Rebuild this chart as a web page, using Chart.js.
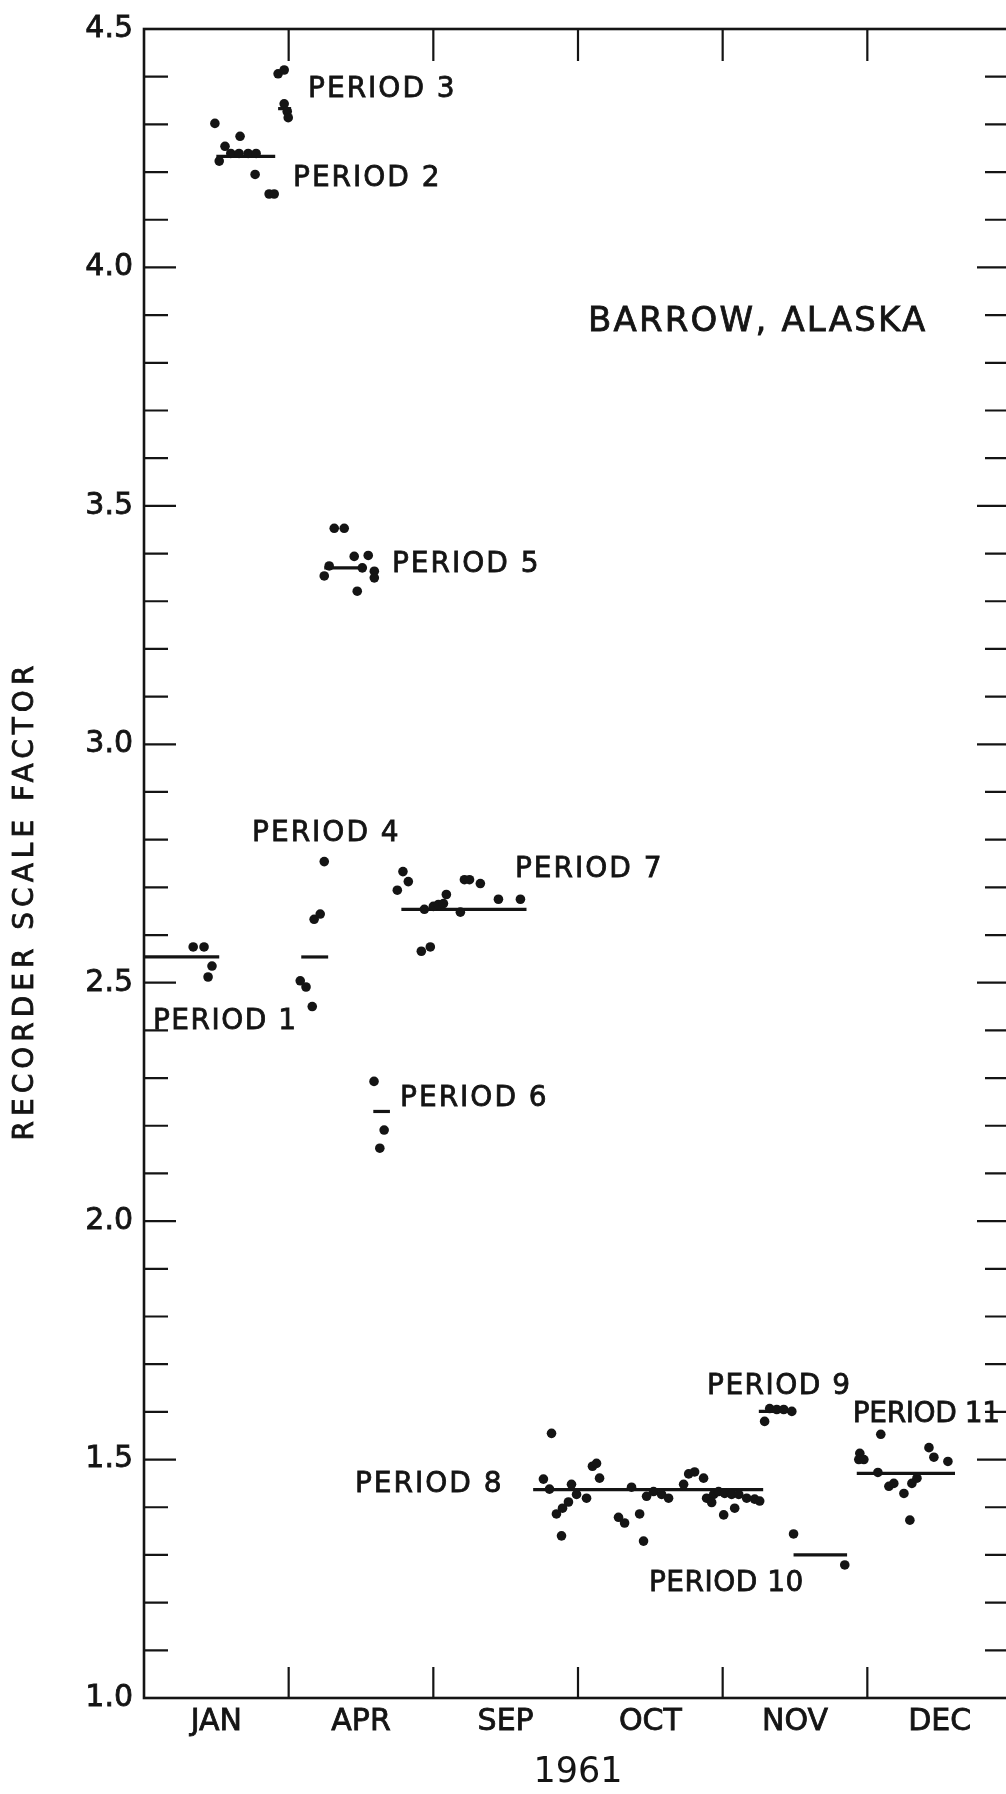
<!DOCTYPE html>
<html>
<head>
<meta charset="utf-8">
<script src="https://cdn.jsdelivr.net/npm/chart.js@4.4.1/dist/chart.umd.min.js"></script>
<style>
html,body{margin:0;padding:0;overflow:hidden;background:#fff}
#wrap{width:1020px;height:1794px}
</style>
</head>
<body>
<div id="wrap"><canvas id="c" width="1020" height="1794"></canvas></div>
<script>
// ---------- data ----------
const monthLabels = ['JAN', 'APR', 'SEP', 'OCT', 'NOV', 'DEC'];
const yearLabel = '1961';
const yAxisTitle = 'RECORDER SCALE FACTOR';
const stationName = 'BARROW, ALASKA';
const periodNames = ['PERIOD 1','PERIOD 2','PERIOD 3','PERIOD 4','PERIOD 5','PERIOD 6',
                     'PERIOD 7','PERIOD 8','PERIOD 9','PERIOD 10','PERIOD 11'];

// observed scale factors per period (x = position along the 1961 month axis)
const p1X = [0.34, 0.415, 0.47, 0.443];
const p1Y = [2.575, 2.575, 2.535, 2.512];
const p2X = [0.49, 0.664, 0.56, 0.52, 0.60, 0.657, 0.72, 0.775, 0.768, 0.865, 0.90];
const p2Y = [4.302, 4.275, 4.254, 4.223, 4.239, 4.239, 4.239, 4.239, 4.195, 4.154, 4.154];
const p3X = [0.927, 0.969, 0.969, 0.99, 0.997];
const p3Y = [4.406, 4.414, 4.343, 4.327, 4.314];
const p4X = [1.246, 1.176, 1.218, 1.08, 1.12, 1.163];
const p4Y = [2.754, 2.633, 2.644, 2.504, 2.491, 2.45];
const p5X = [1.315, 1.384, 1.453, 1.55, 1.28, 1.246, 1.509, 1.592, 1.592, 1.474];
const p5Y = [3.453, 3.453, 3.394, 3.396, 3.374, 3.353, 3.37, 3.363, 3.349, 3.321];
const p6X = [1.59, 1.66, 1.63];
const p6Y = [2.293, 2.191, 2.153];
const p7X = [1.79, 1.827, 1.751, 1.938, 2.0, 2.035, 2.07, 2.09, 2.187, 2.215, 2.25, 2.325, 2.45, 2.602, 1.917, 1.979];
const p7Y = [2.733, 2.712, 2.694, 2.654, 2.66, 2.664, 2.666, 2.685, 2.648, 2.716, 2.716, 2.708, 2.675, 2.675, 2.566, 2.575];
const p8X = [2.817, 2.761, 2.803, 2.955, 2.99, 3.059, 2.934, 2.893, 2.851, 2.886, 3.10, 3.128, 3.149, 3.37,
             3.28, 3.322, 3.426, 3.453, 3.474, 3.522, 3.578, 3.626, 3.765, 3.806, 3.868, 3.73, 3.889, 3.938,
             3.972, 4.014, 4.062, 4.111, 4.166, 4.221, 4.256, 3.924, 4.083, 4.007];
const p8Y = [1.555, 1.459, 1.438, 1.448, 1.427, 1.419, 1.411, 1.398, 1.386, 1.340, 1.486, 1.492, 1.461, 1.442,
             1.379, 1.367, 1.386, 1.329, 1.423, 1.433, 1.427, 1.419, 1.47, 1.474, 1.461, 1.448, 1.419, 1.427,
             1.433, 1.429, 1.427, 1.427, 1.419, 1.417, 1.413, 1.41, 1.398, 1.384];
const p9X = [4.325, 4.374, 4.422, 4.478, 4.29];
const p9Y = [1.607, 1.605, 1.605, 1.601, 1.58];
const p10X = [4.49, 4.844];
const p10Y = [1.344, 1.279];
const p11X = [4.948, 4.941, 4.976, 5.093, 5.073, 5.149, 5.183, 5.253, 5.308, 5.343, 5.294, 5.426, 5.46, 5.557];
const p11Y = [1.513, 1.50, 1.50, 1.553, 1.473, 1.444, 1.45, 1.429, 1.45, 1.461, 1.373, 1.525, 1.505, 1.496];

// period mean values and the span each mean line covers
const periodMean     = [2.554, 4.233, 4.333, 2.554, 3.37, 2.23, 2.654, 1.437, 1.601, 1.30, 1.471];
const periodMeanFrom = [0.0,   0.50,  0.927, 1.087, 1.246, 1.585, 1.779, 2.69, 4.25, 4.49, 4.927];
const periodMeanTo   = [0.52,  0.907, 1.017, 1.273, 1.522, 1.70,  2.644, 4.28, 4.50, 4.86, 5.606];

const pointsX = [p1X, p2X, p3X, p4X, p5X, p6X, p7X, p8X, p9X, p10X, p11X];
const pointsY = [p1Y, p2Y, p3Y, p4Y, p5Y, p6Y, p7Y, p8Y, p9Y, p10Y, p11Y];

// ---------- layout / style ----------
const INK = '#141414';
const FONT = '"DejaVu Sans", "Liberation Sans", sans-serif';
// label anchors (left edge, vertical middle) in data units, plus letter spacing
const labelAnchors = [
  [0.062, 2.418], [1.03, 4.187], [1.134, 4.373], [0.747, 2.812], [1.714, 3.376], [1.77, 2.256],
  [2.564, 2.737], [1.458, 1.448], [3.892, 1.653], [3.49, 1.240], [4.9, 1.594]
];
const labelSpacing = [1.5, 2, 2, 2, 2, 2, 2, 2, 1.5, 0.5, -0.4];
const stationAnchor = [3.069, 3.885];
const yTitleCenterValue = 2.666;

const datasets = [];
for (let i = 0; i < pointsX.length; i++) {
  datasets.push({
    label: periodNames[i] + ' obs',
    data: pointsX[i].map((xv, k) => ({x: xv, y: pointsY[i][k]})),
    showLine: false,
    pointRadius: 4.8,
    pointBackgroundColor: INK,
    pointBorderWidth: 0
  });
  datasets.push({
    label: periodNames[i] + ' mean',
    data: [{x: periodMeanFrom[i], y: periodMean[i]}, {x: periodMeanTo[i], y: periodMean[i]}],
    showLine: true,
    borderColor: INK,
    borderWidth: 3.2,
    borderCapStyle: 'butt',
    pointRadius: 0
  });
}

function boldText(ctx, text, px, py) {
  ctx.fillText(text, px, py);
  ctx.strokeText(text, px, py);
}

const framePlugin = {
  id: 'frameAndText',
  afterDatasetsDraw(chart) {
    const {ctx, chartArea: a, scales: {x, y}} = chart;
    ctx.save();
    ctx.strokeStyle = INK;
    ctx.lineWidth = 2.6;
    ctx.strokeRect(a.left, a.top, a.right - a.left, a.bottom - a.top);
    // minor/major y ticks, pointing inward on both sides
    ctx.lineWidth = 2.2;
    ctx.beginPath();
    const kMin = Math.round(y.min * 10), kMax = Math.round(y.max * 10);
    for (let k = kMin + 1; k < kMax; k++) {
      const py = y.getPixelForValue(k / 10);
      const major = k % 5 === 0;
      ctx.moveTo(a.left, py); ctx.lineTo(a.left + (major ? 32 : 24), py);
      ctx.moveTo(a.right, py); ctx.lineTo(a.right - (major ? 35 : 27), py);
    }
    for (let m = Math.round(x.min) + 1; m < Math.round(x.max); m++) {
      const px = x.getPixelForValue(m);
      ctx.moveTo(px, a.bottom); ctx.lineTo(px, a.bottom - 31);
      ctx.moveTo(px, a.top); ctx.lineTo(px, a.top + 32);
    }
    ctx.stroke();

    // period labels
    ctx.fillStyle = INK;
    ctx.lineWidth = 0.8;
    ctx.textBaseline = 'middle';
    ctx.textAlign = 'left';
    ctx.font = '28px ' + FONT;
    periodNames.forEach((name, i) => {
      ctx.letterSpacing = labelSpacing[i] + 'px';
      boldText(ctx, name, x.getPixelForValue(labelAnchors[i][0]), y.getPixelForValue(labelAnchors[i][1]));
    });
    // station name
    ctx.font = '34px ' + FONT;
    ctx.letterSpacing = '2.2px';
    boldText(ctx, stationName, x.getPixelForValue(stationAnchor[0]), y.getPixelForValue(stationAnchor[1]));
    // y axis title
    ctx.font = '28px ' + FONT;
    ctx.letterSpacing = '5px';
    ctx.textAlign = 'center';
    ctx.translate(26, y.getPixelForValue(yTitleCenterValue));
    ctx.rotate(-Math.PI / 2);
    boldText(ctx, yAxisTitle, 3, 0);
    ctx.restore();
  }
};

new Chart(document.getElementById('c'), {
  type: 'scatter',
  data: {datasets},
  options: {
    responsive: false,
    animation: false,
    events: [],
    layout: {padding: {top: 20, right: 8, left: 0, bottom: 0}},
    plugins: {legend: {display: false}, tooltip: {enabled: false}},
    scales: {
      x: {
        type: 'linear', min: 0, max: 6,
        grid: {display: false, drawTicks: false}, border: {display: false},
        afterBuildTicks(scale) { scale.ticks = monthLabels.map((_, i) => ({value: i + 0.5})); },
        afterFit(scale) { scale.height = 96; },
        ticks: {
          autoSkip: false, maxRotation: 0, padding: 6, color: INK,
          textStrokeColor: INK, textStrokeWidth: 0.8,
          font: {family: FONT, size: 30},
          callback: (v) => monthLabels[Math.floor(v)]
        },
        title: {display: true, text: yearLabel, color: INK, font: {family: FONT, size: 35}, padding: {top: 0, bottom: 0}}
      },
      y: {
        type: 'linear', min: 1.0, max: 4.5,
        grid: {display: false, drawTicks: false}, border: {display: false},
        afterFit(scale) { scale.width = 144; },
        ticks: {
          stepSize: 0.5, padding: 11, color: INK,
          textStrokeColor: INK, textStrokeWidth: 0.8,
          font: {family: FONT, size: 30},
          callback: (v) => Number(v).toFixed(1)
        }
      }
    }
  },
  plugins: [framePlugin]
});
</script>
</body>
</html>
